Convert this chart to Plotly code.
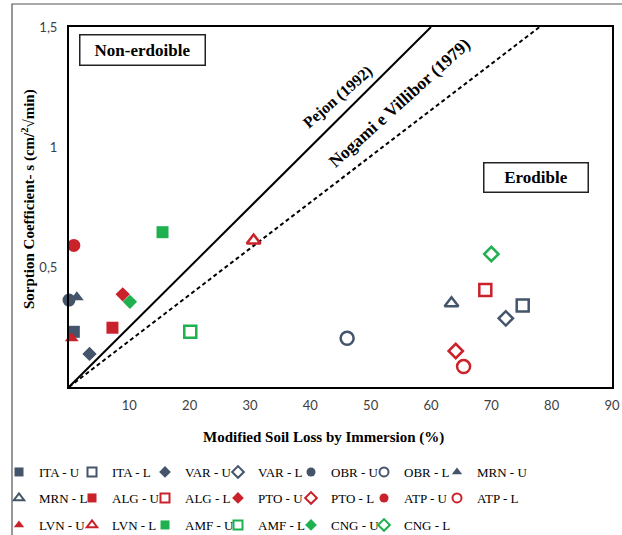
import plotly.graph_objects as go

# ---------------- data ----------------
series_names = ["ITA - U", "ITA - L", "VAR - U", "VAR - L", "OBR - U", "OBR - L", "MRN - U",
                "MRN - L", "ALG - U", "ALG - L", "PTO - U", "PTO - L", "ATP - U", "ATP - L",
                "LVN - U", "LVN - L", "AMF - U", "AMF - L", "CNG - U", "CNG - L"]
soil_loss = [0.8, 75.2, 3.4, 72.4, 0.0, 46.1, 1.3,
             63.4, 7.2, 69.0, 8.9, 64.1, 0.8, 65.4,
             0.45, 30.6, 15.5, 20.1, 10.1, 70.0]
sorption = [0.23, 0.34, 0.138, 0.286, 0.362, 0.203, 0.374,
            0.349, 0.247, 0.404, 0.386, 0.15, 0.59, 0.085,
            0.203, 0.61, 0.645, 0.23, 0.355, 0.554]

pejon_x = [0, 60]
pejon_y = [0, 1.5]
nogami_x = [0, 78]
nogami_y = [0, 1.5]

x_ticks = [10, 20, 30, 40, 50, 60, 70, 80, 90]
y_ticks = [0.5, 1, 1.5]
y_ticktext = ["0,5", "1", "1,5"]

# ---------------- styles ----------------
DARK = "#44546A"
RED = "#C9222A"
GREEN = "#1FB04F"
site_style = {
    "ITA": ("square", DARK), "VAR": ("diamond", DARK), "OBR": ("circle", DARK),
    "MRN": ("triangle-up", DARK), "ALG": ("square", RED), "PTO": ("diamond", RED),
    "ATP": ("circle", RED), "LVN": ("triangle-up", RED), "AMF": ("square", GREEN),
    "CNG": ("diamond", GREEN),
}
sizes = {"square": 12, "diamond": 11, "circle": 13, "triangle-up": 12}

# plot area in pixels
W, H = 622, 535
ML, MR, MT, MB = 69, 10, 27, 148
PW, PH = W - ML - MR, H - MT - MB


def px(x):
    return (x - ML) / PW


def py(y):
    return (H - MB - y) / PH


fig = go.Figure()

fig.add_trace(go.Scatter(x=pejon_x, y=pejon_y, mode="lines", showlegend=False,
                         line=dict(color="black", width=2), hoverinfo="skip"))
fig.add_trace(go.Scatter(x=nogami_x, y=nogami_y, mode="lines", showlegend=False,
                         line=dict(color="black", width=2, dash="4px,3px"), hoverinfo="skip"))

legend_ids = ["legend", "legend2", "legend3"]
for i, (name, xv, yv) in enumerate(zip(series_names, soil_loss, sorption)):
    site = name.split(" - ")[0]
    is_l = name.endswith("L")
    sym, col = site_style[site]
    symbol = sym + ("-open" if is_l else "")
    legend_id = legend_ids[i // 7]
    # data mark
    fig.add_trace(go.Scatter(
        x=[xv], y=[yv], mode="markers", name=name, showlegend=False, cliponaxis=False,
        marker=dict(symbol=symbol, size=sizes[sym], color=col,
                    line=dict(width=2.5 if is_l else 0, color=col)),
    ))
    # legend entry (smaller symbol, as in the reference key)
    fig.add_trace(go.Scatter(
        x=[None], y=[None], mode="markers", name=name, legend=legend_id,
        marker=dict(symbol=symbol, size=9, color=col,
                    line=dict(width=2 if is_l else 0, color=col)),
    ))

# blank spacer entry at the end of each legend row so the last label is not clipped
for lid in legend_ids:
    fig.add_trace(go.Scatter(x=[None], y=[None], mode="markers", name=" ", legend=lid,
                             marker=dict(size=1, color="rgba(0,0,0,0)")))

legend_common = dict(orientation="h", entrywidth=28, entrywidthmode="pixels",
                     font=dict(family="Liberation Serif", size=13, color="black"),
                     bgcolor="rgba(0,0,0,0)", xanchor="left", yanchor="middle",
                     itemclick=False, itemdoubleclick=False, traceorder="normal")

fig.update_layout(
    width=W, height=H,
    margin=dict(l=ML, r=MR, t=MT, b=MB, autoexpand=False),
    paper_bgcolor="white", plot_bgcolor="white",
    legend=dict(x=px(-1), y=py(472), **legend_common),
    legend2=dict(x=px(-1), y=py(498), **legend_common),
    legend3=dict(x=px(-1), y=py(525), **legend_common),
    xaxis=dict(range=[0, 90], tickvals=x_ticks, showgrid=False, zeroline=False,
               showline=True, linecolor="black", linewidth=2, mirror=True, ticks="",
               ticklabelstandoff=5,
               tickfont=dict(family="Lato", size=13, color="#404040")),
    yaxis=dict(range=[0, 1.5], tickvals=y_ticks, ticktext=y_ticktext, showgrid=False,
               zeroline=False, showline=True, linecolor="black", linewidth=2, mirror=True,
               ticks="", ticklabelstandoff=7,
               tickfont=dict(family="Lato", size=13, color="#404040")),
    showlegend=True,
)

# outer frame
fig.add_shape(type="rect", xref="paper", yref="paper", x0=px(12), x1=px(640),
              y0=py(560), y1=py(4), line=dict(color="#555555", width=1.2), layer="below")

serif_b = dict(family="Liberation Serif", color="black")
ann_common = dict(xref="paper", yref="paper", showarrow=False, xanchor="center", yanchor="middle")
fig.add_annotation(x=px(28), y=py(199), textangle=-90,
                   text="<b>Sorption Coefficient- s (cm/<sup>2</sup>√min)</b>",
                   font=dict(size=15, **serif_b), **ann_common)
fig.add_annotation(x=px(323), y=py(437),
                   text="<b>Modified Soil Loss by Immersion (%)</b>",
                   font=dict(size=15, **serif_b), **ann_common)
fig.add_annotation(x=px(142), y=py(49.5),
                   text="<b>Non-erdoible</b>", width=124, height=29,
                   bordercolor="#222222", borderwidth=1.5, borderpad=0,
                   font=dict(size=17, **serif_b), **ann_common)
fig.add_annotation(x=px(535.5), y=py(178),
                   text="<b>Erodible</b>", width=103, height=28,
                   bordercolor="#222222", borderwidth=1.5, borderpad=0,
                   font=dict(size=17, **serif_b), **ann_common)
fig.add_annotation(x=px(338), y=py(97), textangle=-41,
                   text="<b>Pejon (1992)</b>",
                   font=dict(size=16, **serif_b), **ann_common)
fig.add_annotation(x=px(399), y=py(103), textangle=-42,
                   text="<b>Nogami e Villibor (1979)</b>",
                   font=dict(size=17.5, **serif_b), **ann_common)

fig.write_html("out.html", config={"displayModeBar": False},
               post_script="document.body.style.margin='0';")
